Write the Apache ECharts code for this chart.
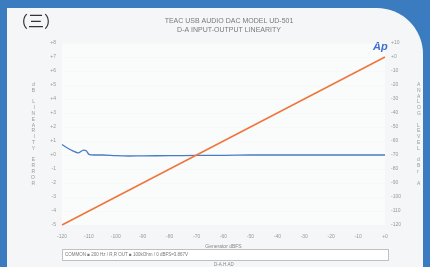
<!DOCTYPE html>
<html>
<head>
<meta charset="utf-8">
<script src="https://cdn.jsdelivr.net/npm/echarts@6/dist/echarts.min.js"></script>
<style>
  html, body { margin: 0; padding: 0; width: 430px; height: 267px; overflow: hidden; background: #3b7bbf; }
  #card {
    position: absolute; left: 7px; top: 8px; width: 416px; height: 270px;
    background: #f4f6f7;
    border-top-right-radius: 46px;
  }
  #main { position: absolute; left: 0; top: 0; width: 430px; height: 267px; }
</style>
</head>
<body>
<div id="card"></div>
<div id="main"></div>
<script>
// 线性误差 (左轴 dB)
const errX = [-120, -118, -116, -114, -112, -111, -110, -108, -105, -100, -95, -90, -80, -70, -60, -50, -40, -30, -20, -10, 0]
const errY = [0.75, 0.5, 0.3, 0.15, 0.35, 0.3, 0.05, 0.0, 0.0, -0.05, -0.07, -0.06, -0.05, -0.03, -0.02, 0, 0, 0, 0, 0, 0]
// 模拟输出电平 (右轴)
const levelX = [-120, -100, -80, -60, -40, -20, 0]
const levelY = [-120, -100, -80, -60, -40, -20, 0]

const leftName = 'dB LINEARITY ERROR'
const rightName = 'ANALOG LEVEL dBr A'

const sign = (v) => (v > 0 ? '+' + v : v === 0 ? '+0' : '' + v)
const stack = (s) => s.split('').map((c) => (c === ' ' ? '' : c)).join('\n')

const myChart = echarts.init(document.getElementById('main'))

myChart.setOption({
  animation: false,
  backgroundColor: 'transparent',
  title: {
    text: 'TEAC USB AUDIO DAC MODEL UD-501\nD-A INPUT-OUTPUT LINEARITY',
    left: 224,
    top: 12,
    textAlign: 'center',
    textStyle: { fontSize: 7, fontWeight: 'normal', color: '#7a7a7a', lineHeight: 9, fontFamily: 'Liberation Sans' }
  },
  grid: { left: 62, right: 45, top: 43, bottom: 42 },
  xAxis: {
    type: 'value',
    min: -120,
    max: 0,
    interval: 10,
    name: 'Generator dBFS',
    nameLocation: 'middle',
    nameGap: 18,
    nameTextStyle: { fontSize: 5, color: '#888' },
    axisLine: { show: false },
    axisTick: { show: false },
    splitLine: { show: false },
    axisLabel: { fontSize: 5, color: '#999', margin: 9, formatter: sign }
  },
  yAxis: [
    {
      type: 'value',
      min: -5,
      max: 8,
      interval: 1,
      name: stack(leftName),
      nameLocation: 'middle',
      nameRotate: 0,
      nameGap: 27,
      nameTextStyle: { fontSize: 5, color: '#999', lineHeight: 5.8 },
      axisLine: { show: false },
      axisTick: { show: false },
      splitLine: { show: true, lineStyle: { color: '#f5f5f5', width: 0.5 } },
      axisLabel: { fontSize: 5, color: '#999', margin: 6, formatter: sign }
    },
    {
      type: 'value',
      min: -120,
      max: 10,
      interval: 10,
      name: stack(rightName),
      nameLocation: 'middle',
      nameRotate: 0,
      nameGap: 32,
      nameTextStyle: { fontSize: 5, color: '#999', lineHeight: 5.8 },
      axisLine: { show: false },
      axisTick: { show: false },
      splitLine: { show: false },
      axisLabel: { fontSize: 5, color: '#999', margin: 6, formatter: sign }
    }
  ],
  series: [
    {
      type: 'line',
      yAxisIndex: 0,
      data: errX.map((x, i) => [x, errY[i]]),
      smooth: 0.3,
      showSymbol: false,
      lineStyle: { color: '#4a7cc6', width: 1.3 }
    },
    {
      type: 'line',
      yAxisIndex: 1,
      data: levelX.map((x, i) => [x, levelY[i]]),
      showSymbol: false,
      lineStyle: { color: '#f0763c', width: 1.6 }
    }
  ],
  graphic: [
    {
      type: 'rect',
      shape: { x: 0, y: 0, width: 323, height: 182 },
      left: 62, top: 43, z: -1,
      style: { fill: '#ffffff', opacity: 0.5 }
    },
    {
      type: 'text',
      left: 12, top: 13,
      style: { text: '（三）', fill: '#333', font: '16px "Noto Sans CJK SC"' }
    },
    {
      type: 'text',
      left: 373, top: 41,
      style: { text: 'Ap', fill: '#3f6fcc', font: 'italic bold 11px "Liberation Sans"' }
    },
    {
      type: 'rect',
      shape: { x: 62.5, y: 249.5, width: 326, height: 11 },
      style: { fill: '#ffffff', stroke: '#999', lineWidth: 0.6 }
    },
    {
      type: 'text',
      left: 65, top: 252,
      style: { text: 'COMMON ■ 200 Hz / R,R OUT ■ 100kOhm / 0 dBFS=3.867V', fill: '#777', font: '4.5px "Liberation Sans"' }
    },
    {
      type: 'text',
      left: 214, top: 262,
      style: { text: 'D-A.H.AD', fill: '#888', font: '4.5px "Liberation Sans"' }
    }
  ]
})
</script>
</body>
</html>
